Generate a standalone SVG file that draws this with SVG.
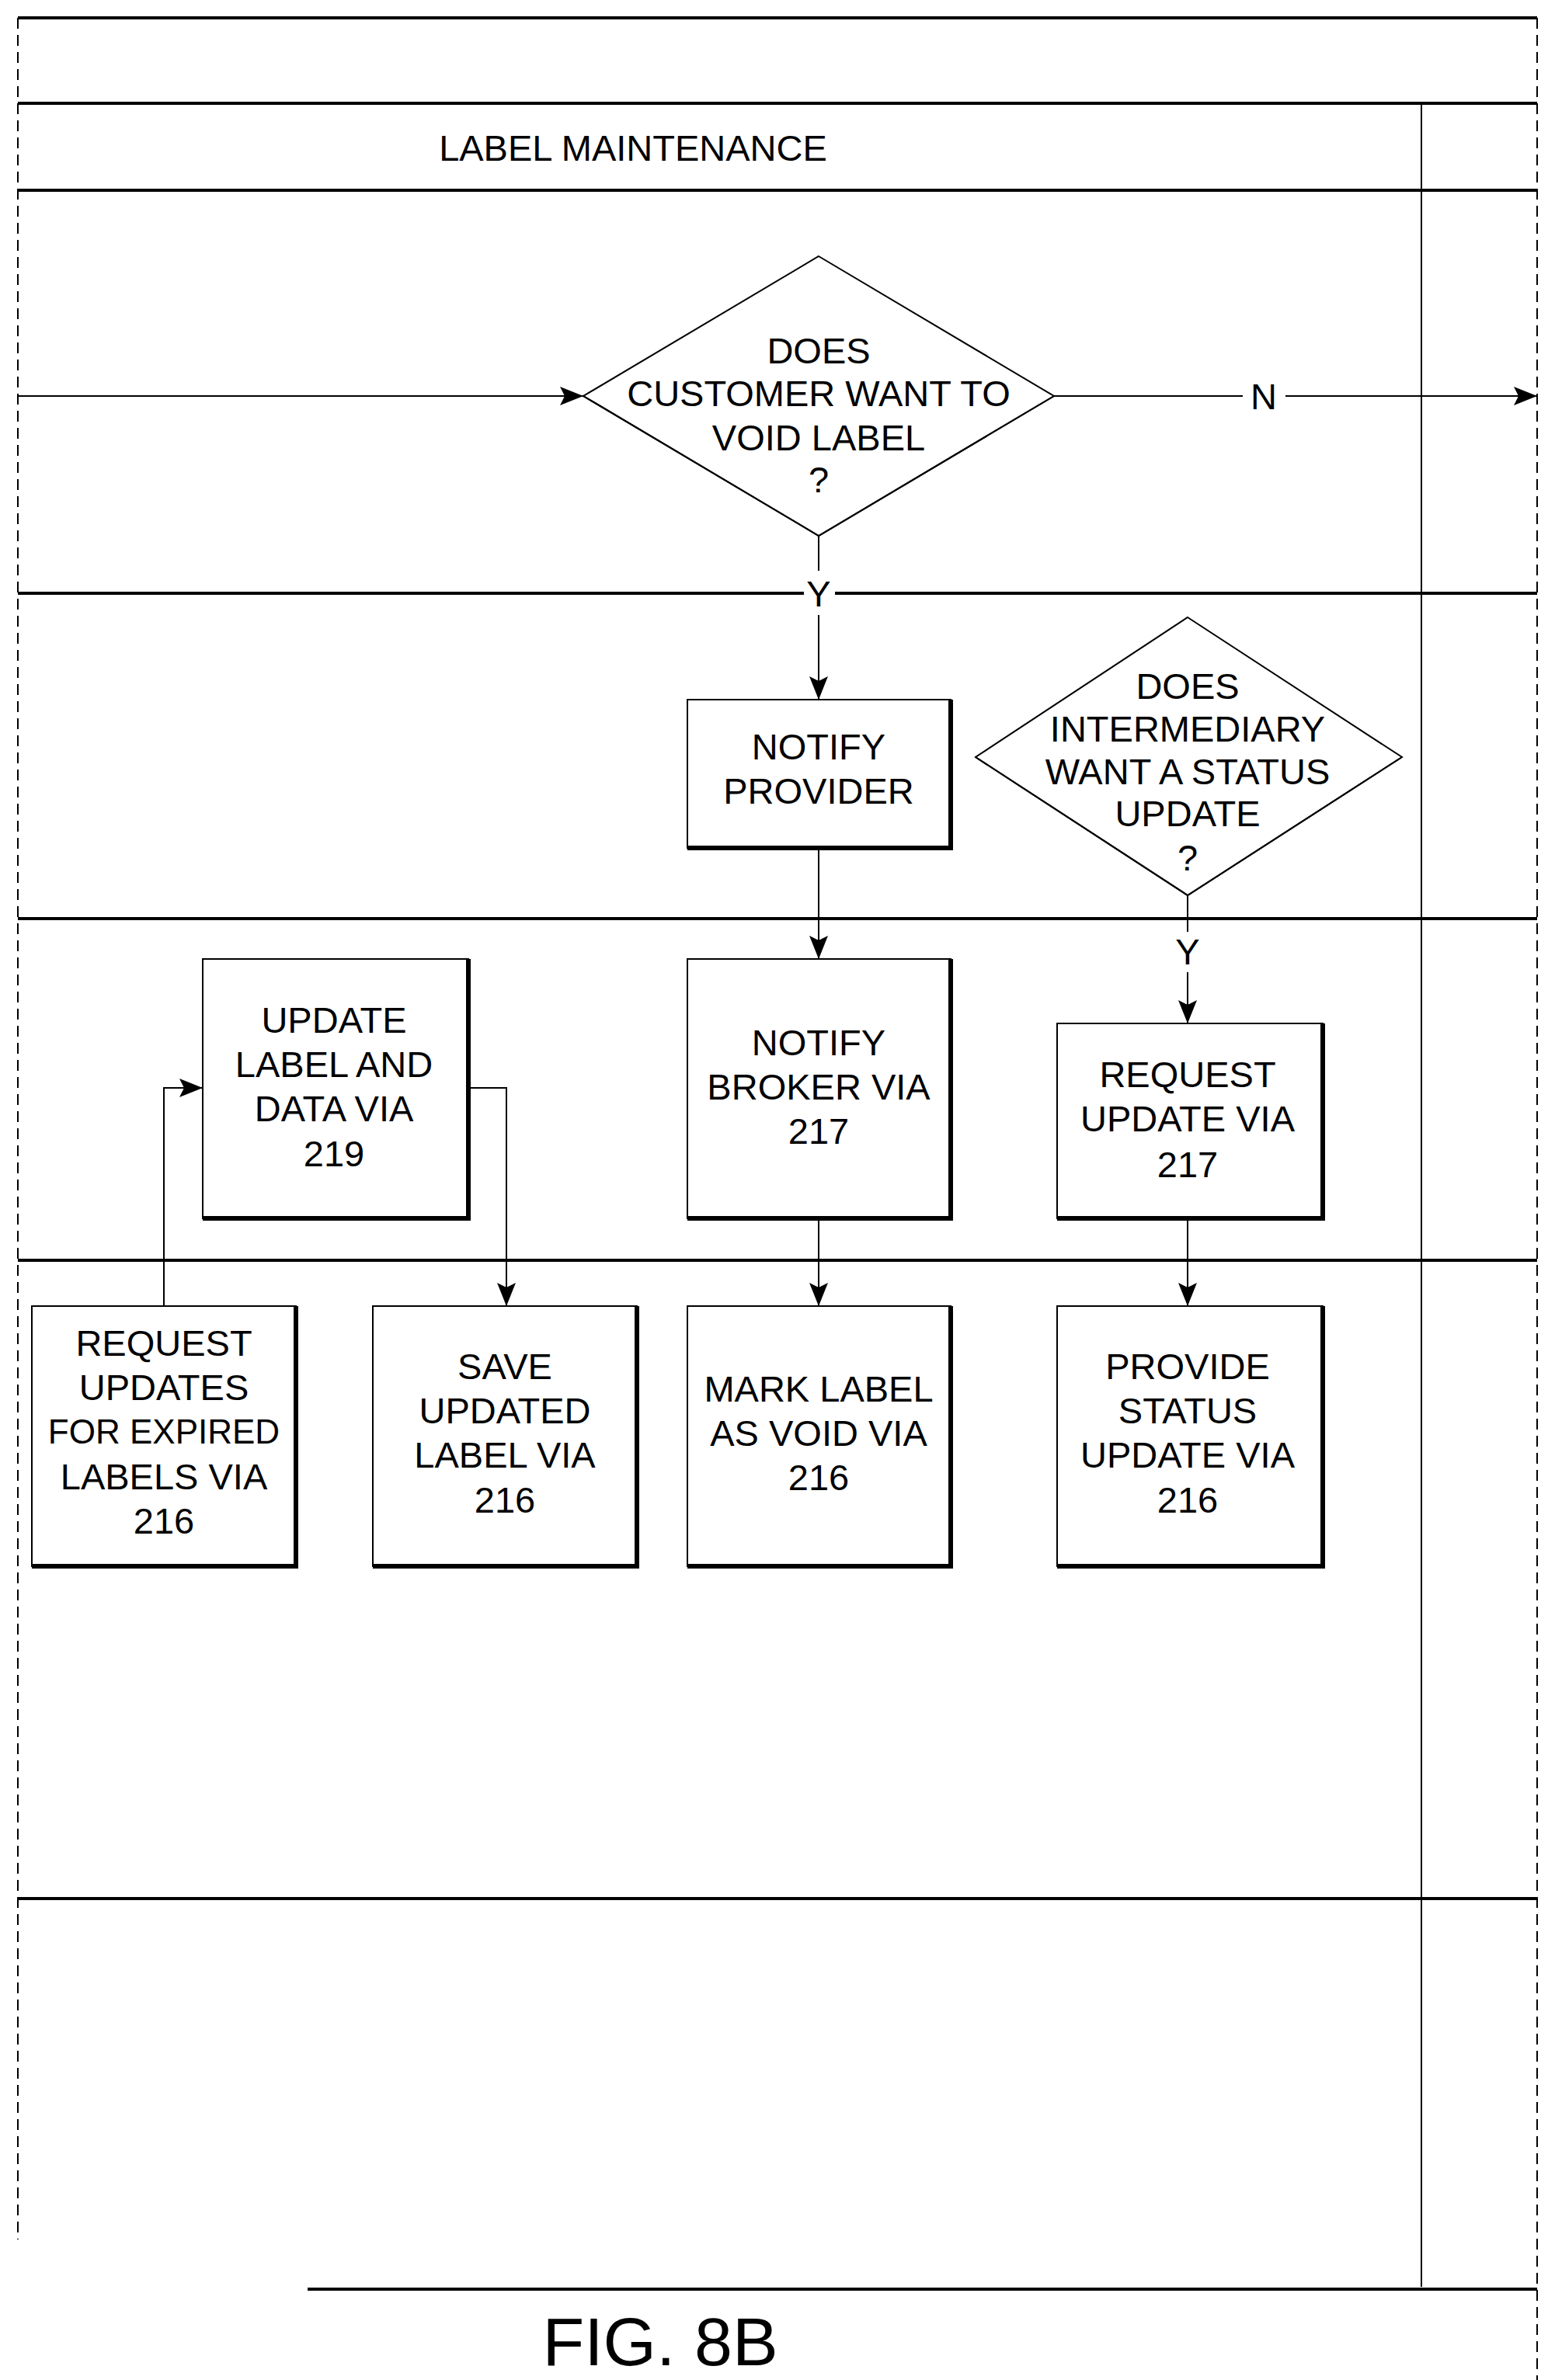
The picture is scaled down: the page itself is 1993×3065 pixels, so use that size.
<svg xmlns="http://www.w3.org/2000/svg" width="1993" height="3065" viewBox="0 0 1993 3065">
<style>
text{font-family:"Liberation Sans",Arial,sans-serif;font-size:47px;fill:#000;text-anchor:middle;dominant-baseline:central}
.ln{stroke:#000;stroke-width:2;fill:none}
.lane{stroke:#000;stroke-width:4}
.dash{stroke:#000;stroke-width:2;stroke-dasharray:14 8}
.box{fill:#fff;stroke:#000;stroke-width:2}
.sh{stroke:#000;stroke-width:6;fill:none}
.con{stroke:#000;stroke-width:2;fill:none}
</style>
<defs>
<marker id="a" viewBox="0 0 30 24" refX="30" refY="12" markerWidth="30" markerHeight="24" markerUnits="userSpaceOnUse" orient="auto"><path d="M0,0 L30,12 L0,24 L6,12 z" fill="#000"/></marker></defs>
<rect width="1993" height="3065" fill="#fff"/>
<g id="lanes">
<line class="lane" x1="23" y1="23" x2="1979" y2="23" stroke-width="6"/>
<line class="lane" x1="23" y1="133" x2="1979" y2="133"/>
<line class="lane" x1="23" y1="245" x2="1979" y2="245"/>
<line class="lane" x1="23" y1="764" x2="1979" y2="764"/>
<line class="lane" x1="23" y1="1183" x2="1979" y2="1183"/>
<line class="lane" x1="23" y1="1623" x2="1979" y2="1623"/>
<line class="lane" x1="23" y1="2445" x2="1979" y2="2445"/>
<line class="ln" x1="1830" y1="133" x2="1830" y2="2945"/>
<line class="dash" x1="23" y1="23" x2="23" y2="2884"/>
<line class="dash" x1="1979" y1="23" x2="1979" y2="3065"/>
<line class="lane" x1="396" y1="2948" x2="1979" y2="2948" stroke-width="7"/>
<text x="815" y="190">LABEL MAINTENANCE</text>
<text x="850" y="3015" style="font-size:88px">FIG. 8B</text>
</g>
<g id="connectors">
<line class="con" x1="23" y1="510" x2="751" y2="510" marker-end="url(#a)"/>
<line class="con" x1="1357" y1="510" x2="1600" y2="510"/>
<line class="con" x1="1655" y1="510" x2="1979" y2="510" marker-end="url(#a)"/>
<text x="1627" y="510">N</text>
<line class="con" x1="1054" y1="690" x2="1054" y2="735"/>
<rect x="1035" y="740" width="40" height="48" fill="#fff"/>
<line class="con" x1="1054" y1="792" x2="1054" y2="901" marker-end="url(#a)"/>
<text x="1054" y="764">Y</text>
<line class="con" x1="1054" y1="1092" x2="1054" y2="1235" marker-end="url(#a)"/>
<line class="con" x1="1529" y1="1153" x2="1529" y2="1200"/>
<rect x="1510" y="1200" width="40" height="50" fill="#fff"/>
<line class="con" x1="1529" y1="1252" x2="1529" y2="1318" marker-end="url(#a)"/>
<text x="1529" y="1225">Y</text>
<line class="con" x1="1054" y1="1569" x2="1054" y2="1682" marker-end="url(#a)"/>
<line class="con" x1="1529" y1="1569" x2="1529" y2="1682" marker-end="url(#a)"/>
<polyline class="con" points="211,1682 211,1401 261,1401" marker-end="url(#a)"/>
<polyline class="con" points="603,1401 652,1401 652,1682" marker-end="url(#a)"/>
</g>
<g id="d1">
<polygon class="box" points="1054,330 1357,510 1054,690 751,510"/>
<polyline class="ln" points="751,510 1054,690 1357,510" stroke-width="5"/>
<text x="1054" y="451">DOES</text><text x="1054" y="506">CUSTOMER WANT TO</text><text x="1054" y="563">VOID LABEL</text><text x="1054" y="617">?</text>
</g>
<g id="d2">
<polygon class="box" points="1529,795 1805,975 1529,1153 1256,975"/>
<polyline class="ln" points="1256,975 1529,1153 1805,975" stroke-width="5"/>
<text x="1529" y="883">DOES</text><text x="1529" y="938">INTERMEDIARY</text><text x="1529" y="993">WANT A STATUS</text><text x="1529" y="1047">UPDATE</text><text x="1529" y="1104">?</text>
</g>
<g id="np"><rect class="box" x="885" y="901" width="339" height="191"/><polyline class="sh" points="885,1092 1224,1092 1224,901"/>
<text x="1054" y="961">NOTIFY</text><text x="1054" y="1018">PROVIDER</text></g>
<g id="ul"><rect class="box" x="261" y="1235" width="342" height="334"/><polyline class="sh" points="261,1569 603,1569 603,1235"/>
<text x="430" y="1313">UPDATE</text><text x="430" y="1370">LABEL AND</text><text x="430" y="1427">DATA VIA</text><text x="430" y="1485">219</text></g>
<g id="nb"><rect class="box" x="885" y="1235" width="339" height="334"/><polyline class="sh" points="885,1569 1224,1569 1224,1235"/>
<text x="1054" y="1342">NOTIFY</text><text x="1054" y="1399">BROKER VIA</text><text x="1054" y="1456">217</text></g>
<g id="ru"><rect class="box" x="1361" y="1318" width="342" height="251"/><polyline class="sh" points="1361,1569 1703,1569 1703,1318"/>
<text x="1529" y="1383">REQUEST</text><text x="1529" y="1440">UPDATE VIA</text><text x="1529" y="1499">217</text></g>
<g id="re"><rect class="box" x="41" y="1682" width="340" height="335"/><polyline class="sh" points="41,2017 381,2017 381,1682"/>
<text x="211" y="1729">REQUEST</text><text x="211" y="1786">UPDATES</text><text x="211" y="1843" style="font-size:44px">FOR EXPIRED</text><text x="211" y="1901">LABELS VIA</text><text x="211" y="1958">216</text></g>
<g id="su"><rect class="box" x="480" y="1682" width="340" height="335"/><polyline class="sh" points="480,2017 820,2017 820,1682"/>
<text x="650" y="1759">SAVE</text><text x="650" y="1816">UPDATED</text><text x="650" y="1873">LABEL VIA</text><text x="650" y="1931">216</text></g>
<g id="ml"><rect class="box" x="885" y="1682" width="339" height="335"/><polyline class="sh" points="885,2017 1224,2017 1224,1682"/>
<text x="1054" y="1788">MARK LABEL</text><text x="1054" y="1845">AS VOID VIA</text><text x="1054" y="1902">216</text></g>
<g id="ps"><rect class="box" x="1361" y="1682" width="342" height="335"/><polyline class="sh" points="1361,2017 1703,2017 1703,1682"/>
<text x="1529" y="1759">PROVIDE</text><text x="1529" y="1816">STATUS</text><text x="1529" y="1873">UPDATE VIA</text><text x="1529" y="1931">216</text></g>
</svg>
